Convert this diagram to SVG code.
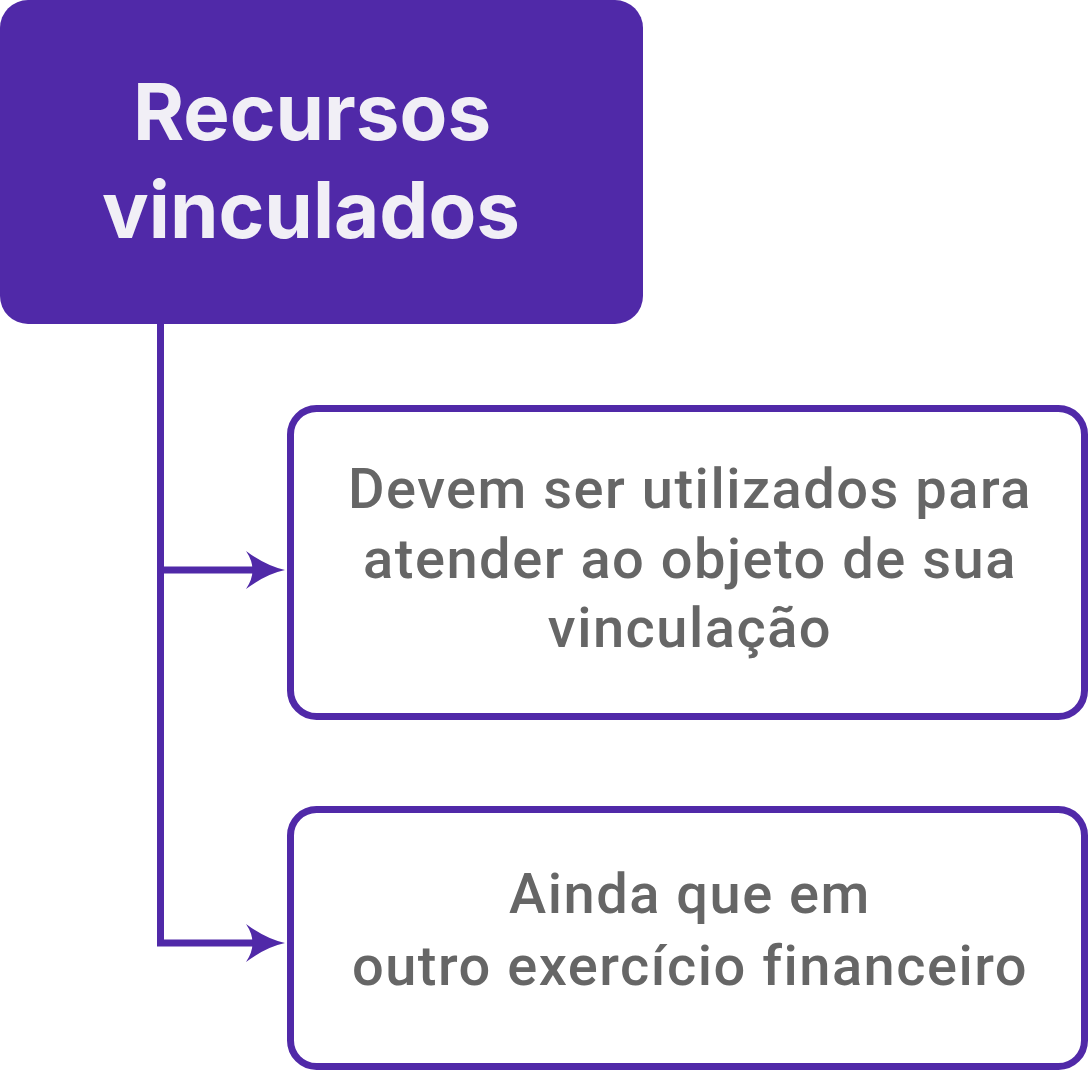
<svg xmlns="http://www.w3.org/2000/svg" width="1088" height="1072" viewBox="0 0 1088 1072">
<defs>
<style>
.title{font-family:Inter,"Open Sans","Liberation Sans",sans-serif;font-weight:700;font-size:78px;fill:#F1EFF6;text-anchor:middle}
.body{font-family:Roboto,"Liberation Sans",sans-serif;font-weight:500;font-size:56px;fill:#666666;text-anchor:middle;font-variant-ligatures:none;letter-spacing:1.5px}
.box{fill:#FFFFFF;stroke:#5029A8;stroke-width:7}
.conn{fill:none;stroke:#5029A8;stroke-width:7}
.head{fill:#5029A8}
</style>
</defs>
<rect width="1088" height="1072" fill="#FFFFFF"/>
<g id="connectors">
<path class="conn" d="M160.5 324 V943 H254"/>
<path class="conn" d="M160.5 570 H254"/>
<path class="head" d="M285 570 Q266 566 246 551 Q259 570 246 589 Q266 574 285 570 Z"/>
<path class="head" d="M285 943 Q266 939 246 924 Q259 943 246 962 Q266 947 285 943 Z"/>
</g>
<g id="node-recursos">
<rect x="0" y="0" width="643" height="324" rx="28" fill="#5029A8"/>
<text class="title" x="312" y="140">Recursos</text>
<text class="title" x="311" y="238">vinculados</text>
</g>
<g id="node-devem">
<rect class="box" x="290.5" y="408.5" width="794" height="308" rx="26"/>
<text class="body" x="690" y="508">Devem ser utilizados para</text>
<text class="body" x="690" y="578">atender ao objeto de sua</text>
<text class="body" x="690" y="647">vinculação</text>
</g>
<g id="node-ainda">
<rect class="box" x="290.5" y="809.5" width="794" height="257" rx="26"/>
<text class="body" x="690" y="913">Ainda que em</text>
<text class="body" x="690" y="985">outro exercício financeiro</text>
</g>
</svg>
